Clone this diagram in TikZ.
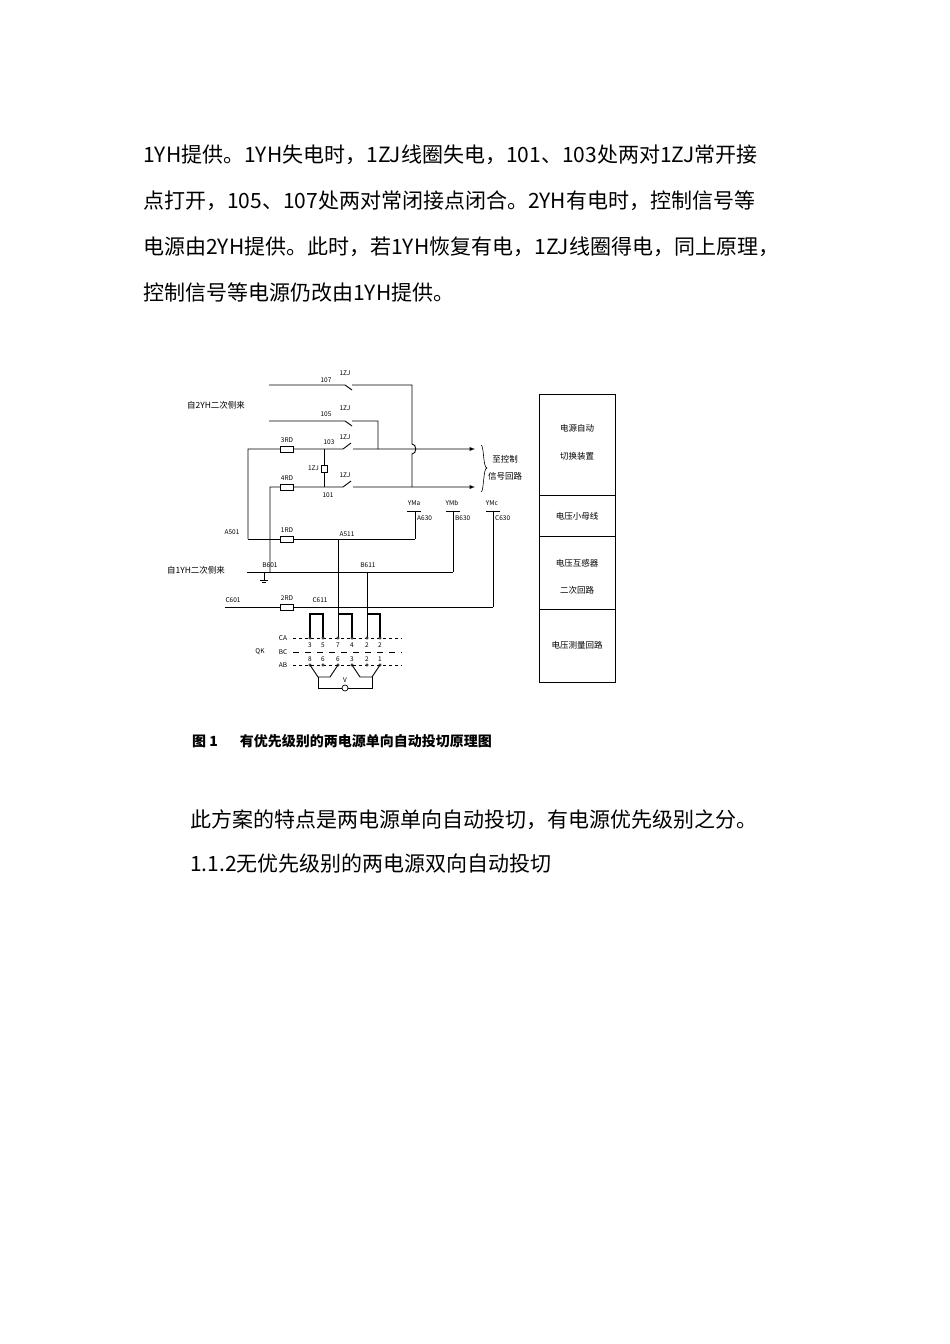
\documentclass[tikz,border=0pt]{standalone}
\usepackage{fontspec}
\setmainfont{Noto Sans CJK SC}
\newfontfamily\cjk{Noto Sans CJK SC}
\begin{document}
\begin{tikzpicture}[x=1pt,y=-1pt,
  para/.style={anchor=west,inner sep=0,font=\fontsize{21}{21}\selectfont},
  sm/.style={inner sep=0,font=\fontsize{6.5}{7}\selectfont},
  lbl/.style={inner sep=0,font=\fontsize{8.5}{9}\selectfont},
  wire/.style={line width=0.9pt},
  fuse/.style={draw,line width=0.8pt,fill=white,minimum width=13pt,minimum height=6pt,inner sep=0},
  term/.style={circle,draw,fill=white,inner sep=0,minimum size=2.5pt}]
\useasboundingbox (0,0) rectangle (950,1344);
\fill[white] (0,0) rectangle (950,1344);
% paragraph
\node[para] (p1) at (143,155) {1YH提供。1YH失电时，1ZJ线圈失电，101、103处两对1ZJ常开接};
\node[para] (p2) at (143,201) {点打开，105、107处两对常闭接点闭合。2YH有电时，控制信号等};
\node[para] (p3) at (143,247) {电源由2YH提供。此时，若1YH恢复有电，1ZJ线圈得电，同上原理，};
\node[para] (p4) at (143,293) {控制信号等电源仍改由1YH提供。};
\node[para] (p5) at (190,820) {此方案的特点是两电源单向自动投切，有电源优先级别之分。};
\node[para] (p6) at (190,864) {1.1.2无优先级别的两电源双向自动投切};
\node[anchor=west,inner sep=0,font=\fontsize{14}{14}\selectfont\bfseries] (cap) at (192,741) {图 1\hspace{22pt}有优先级别的两电源单向自动投切原理图};
% 107 & 105 lines
\draw[wire] (269,385) -- (345,385) -- (352,390) (352,385) -- (412,385) -- (412,444) .. controls (417,444) and (417,454) .. (412,454) -- (412,487);
\node[sm] (l107) at (326,380) {107}; \node[sm] (z107) at (345,373) {1ZJ};
\draw[wire] (269,421) -- (345,421) -- (352,426) (352,421) -- (378,421) -- (378,449);
\node[sm] (l105) at (326,414) {105}; \node[sm] (z105) at (345,408) {1ZJ};
% signal lines
\draw[wire,-latex] (248,539) -- (248,449) -- (343,449) -- (351,443) (353,449) -- (475,449);
\draw[wire,-latex] (270,572) -- (270,487) -- (343,487) -- (351,481) (353,487) -- (475,487);
\draw[wire] (324,449) -- (324,487);
\node[fuse,minimum width=6pt,minimum height=7pt] (coil) at (324,469) {};
\node[sm,anchor=east] (zc) at (319,468) {1ZJ};
\node[fuse] (f3) at (287,449) {}; \node[sm] (l3) at (287,440) {3RD};
\node[fuse] (f4) at (287,487) {}; \node[sm] (l4) at (287,478) {4RD};
\node[sm] (l103) at (329,442) {103}; \node[sm] (z103) at (345,437) {1ZJ};
\node[sm] (l101) at (328,495) {101}; \node[sm] (z101) at (345,475) {1ZJ};
\draw[line width=0.6pt] (481,445) .. controls (484,445) and (483,468) .. (487,468) .. controls (483,468) and (484,492) .. (481,492);
\node[lbl] (t1) at (505,459) {至控制}; \node[lbl] (t2) at (505,476) {信号回路};
% YM buses
\draw[wire] (407,511) -- (421,511) (415,511) -- (415,539);
\draw[wire] (446,511) -- (460,511) (453,511) -- (453,572);
\draw[wire] (486,511) -- (500,511) (493,511) -- (493,607);
\node[sm] at (414,503) {YMa}; \node[sm,anchor=west] at (417,518) {A630};
\node[sm] at (452,503) {YMb}; \node[sm,anchor=west] at (455,518) {B630};
\node[sm] at (492,503) {YMc}; \node[sm,anchor=west] at (495,518) {C630};
% phase lines
\draw[wire] (248,539) -- (415,539);
\draw[wire] (247,572) -- (453,572);
\draw[wire] (225,607) -- (493,607);
\draw[line width=0.6pt] (264,572) -- (264,580) (260,580) -- (268,580) (262,582) -- (266,582);
\node[fuse] (f1) at (287,539) {}; \node[sm] at (287,530) {1RD};
\node[fuse] (f2) at (287,607) {}; \node[sm] at (287,598) {2RD};
\node[sm] at (232,532) {A501}; \node[sm] at (270,565) {B601}; \node[sm] at (233,600) {C601};
\node[sm] at (347,534) {A511}; \node[sm] at (368,565) {B611}; \node[sm] at (320,600) {C611};
\node[lbl] at (196,570) {自1YH二次侧来};
\node[lbl] at (216,405) {自2YH二次侧来};
% taps to switch
\draw[wire] (338,539) -- (338,638);
\draw[wire] (367,572) -- (367,638);
\draw[line width=1.4pt] (310,638) -- (310,614) -- (323,614) -- (323,638);
\draw[line width=1.4pt] (338,614) -- (352,614) -- (352,638);
\draw[line width=1.4pt] (367,614) -- (380,614) -- (380,638);
% switch rows
\draw[dashed,line width=0.5pt] (293,638) -- (402,638);
\draw[line width=0.8pt,dash pattern=on 6pt off 6pt] (293,652) -- (402,652);
\draw[dashed,line width=0.5pt] (293,665) -- (402,665);
\node[sm] at (283,638) {CA}; \node[sm] at (283,652) {BC}; \node[sm] at (283,665) {AB};
\node[sm] at (260,652) {QK};
\foreach \x/\a/\b in {310/3/8,323/5/6,338/7/6,352/4/3,367/2/2,380/2/1}{
  \node[term] at (\x,638) {}; \node[term] at (\x,665) {};
  \node[sm] at (\x,645) {\a}; \node[sm] at (\x,659) {\b};}
% voltmeter
\draw[wire] (310,665) -- (318,677) -- (330,677) -- (338,665);
\draw[wire] (352,665) -- (360,677) -- (372,677) -- (380,665);
\draw[wire] (318,677) -- (318,688) -- (342,688) (348,688) -- (372,688) -- (372,677);
\node[circle,draw,line width=0.7pt,inner sep=0,minimum size=6pt] (vm) at (345,688) {};
\node[sm] at (345,680) {V};
% right boxes
\draw[line width=0.7pt] (539,394) rectangle (615,682);
\draw[line width=0.7pt] (539,495) -- (615,495) (539,536) -- (615,536) (539,609) -- (615,609);
\node[lbl] at (577,428) {电源自动}; \node[lbl] at (577,456) {切换装置};
\node[lbl] at (577,516) {电压小母线};
\node[lbl] at (577,563) {电压互感器}; \node[lbl] at (577,590) {二次回路};
\node[lbl] at (577,645) {电压测量回路};
\end{tikzpicture}
\end{document}
